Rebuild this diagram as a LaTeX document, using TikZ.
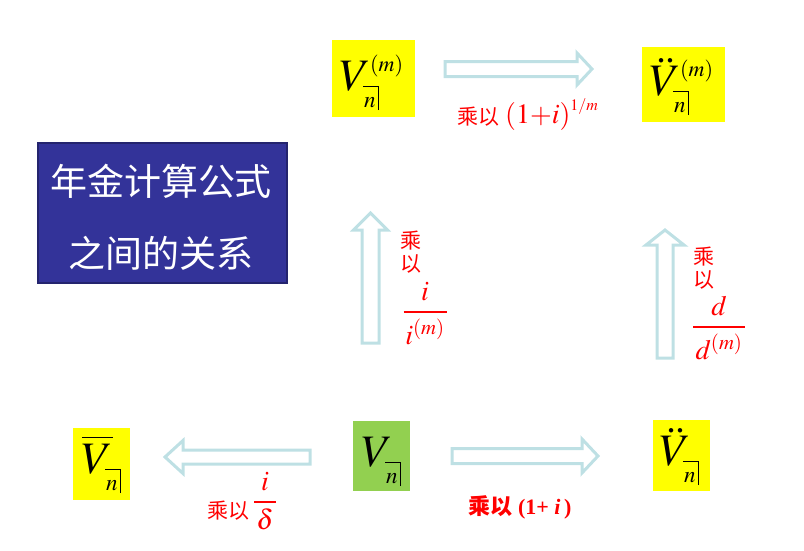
\documentclass[tikz,border=0pt]{standalone}
\usepackage{amsmath}
\usepackage{mathptmx}
\usepackage{fontspec}
\setmainfont{Liberation Serif}
\newfontfamily\cjk{Noto Sans CJK SC}
\definecolor{ylw}{RGB}{255,255,0}
\definecolor{grn}{RGB}{146,208,80}
\definecolor{arrc}{RGB}{190,224,228}
\definecolor{ttlfill}{RGB}{51,51,153}
\definecolor{ttldraw}{RGB}{36,36,110}
\definecolor{lred}{RGB}{255,0,0}
\newcommand\angn{\hbox{\vbox{\hrule height .9pt\kern 10pt\hbox{\kern1pt\fontsize{23}{23}\selectfont$n$\kern2.5pt}}\vrule width .9pt depth 3pt}}
\newcommand\symV[2]{\fontsize{45}{45}\selectfont$#1$\kern-8pt\rlap{\raisebox{-17pt}{\angn}}\kern7pt\raisebox{19pt}{\fontsize{22}{22}\selectfont$#2$}}
\newcommand\fr[3]{\fontsize{28}{28}\selectfont$\genfrac{}{}{2pt}{0}{#1}{\hbox to #3{\hss$#2$\hss}}$}
\newcommand\harr[6]{\draw[blk] (#1,#4-#5) -- (#2,#4-#5) -- (#2,#4-#6) -- (#3,#4) -- (#2,#4+#6) -- (#2,#4+#5) -- (#1,#4+#5) -- cycle;}
\newcommand\varr[6]{\draw[blk] (#4-#5,#1) -- (#4-#5,#2) -- (#4-#6,#2) -- (#4,#3) -- (#4+#6,#2) -- (#4+#5,#2) -- (#4+#5,#1) -- cycle;}
\tikzset{
  blk/.style={draw=arrc, line width=3pt, fill=white},
  sbox/.style={fill=ylw, inner sep=0},
  symb/.style={inner sep=0, anchor=base west},
  lab/.style={text=lred, inner sep=0},
  cjklab/.style={lab, font=\cjk\fontsize{21}{23}\selectfont, align=center},
  ttl/.style={text=white, inner sep=0, font=\cjk\fontsize{37}{37}\selectfont}
}
\begin{document}
\begin{tikzpicture}[x=1pt,y=-1pt]
\useasboundingbox (0,0) rectangle (804,550);
% title box
\node[draw=ttldraw, line width=2pt, fill=ttlfill, minimum width=249pt, minimum height=140pt, inner sep=0] (title) at (162.5,213) {};
\node[ttl] (t1) at (161,181) {年金计算公式};
\node[ttl] (t2) at (161,253) {之间的关系};
% symbol boxes
\node[sbox, minimum width=83pt, minimum height=77pt] (b1) at (373.5,78.5) {};
\node[sbox, minimum width=83pt, minimum height=75pt] (b2) at (683.5,84.5) {};
\node[sbox, minimum width=57pt, minimum height=72pt] (b3) at (101.5,464) {};
\node[sbox, fill=grn, minimum width=57pt, minimum height=70pt] (b4) at (381.5,456) {};
\node[sbox, minimum width=57pt, minimum height=71pt] (b5) at (681.5,455.5) {};
\node[symb] (s1) at (340,90) {\symV{V}{(m)}};
\node[symb] (s2) at (650,95) {\symV{\ddot{V}}{(m)}};
\node[symb] (s3) at (82,473) {\symV{\overline{V}}{}};
\node[symb] (s4) at (362,466) {\symV{V}{}};
\node[symb] (s5) at (660,465) {\symV{\ddot{V}}{}};
% arrows
\harr{445}{577}{592}{69}{7.5}{16}
\harr{452}{582}{598}{456}{7.5}{17}
\harr{310}{183}{165}{457}{7}{16.5}
\varr{343}{230}{213}{370.5}{8.5}{17}
\varr{358}{245}{230}{665}{8}{19}
% labels
\node[cjklab] (l1) at (478,117) {乘以};
\node[lab, anchor=base west] (l1m) at (505,123) {\fontsize{28}{28}\selectfont$(1{+}i)$\raisebox{13pt}{\fontsize{16}{16}\selectfont$1/m$}};
\node[cjklab] (l2) at (411,252) {乘\\以};
\node[lab, anchor=base] (l2f) at (425,319) {\fr{i}{i^{(m)}}{43pt}};
\node[cjklab] (l3) at (704,268) {乘\\以};
\node[lab, anchor=base] (l3f) at (719,334) {\fr{d}{d^{(m)}}{52pt}};
\node[cjklab] (l4) at (228,511) {乘以};
\node[lab, anchor=base] (l4f) at (265,509) {\fr{i}{\delta}{22pt}};
\node[lab, font=\fontsize{22}{22}\selectfont\bfseries] (l5) at (520,507) {{\cjk 乘以} (1+ {\itshape i}\,)};
\end{tikzpicture}
\end{document}
